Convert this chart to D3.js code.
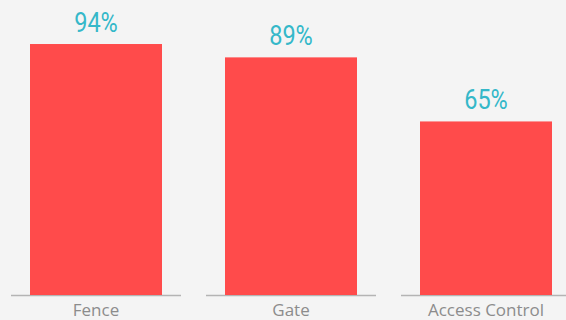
<!DOCTYPE html>
<html><head><meta charset="utf-8">
<script src="https://cdn.jsdelivr.net/npm/d3@7"></script>
<style>html,body{margin:0;padding:0;background:#f4f4f4;}svg{display:block;}</style>
</head><body>
<svg id="c" width="566" height="320"></svg>
<script>
const categories = ["Fence", "Gate", "Access Control"];
const values = [94, 89, 65];
const valueLabels = ["94%", "89%", "65%"];

const svg = d3.select("#c");
const W = 566, H = 320;
svg.append("rect").attr("width", W).attr("height", H).attr("fill", "#f4f4f4");

const x = d3.scaleBand().domain(categories).range([11, 571]).paddingInner(25/195).paddingOuter(0);
const y = d3.scaleLinear().domain([0, 100]).range([295, 28]);
const barW = 132;

svg.selectAll("line.base").data(categories).enter().append("line")
  .attr("class", "base")
  .attr("x1", d => x(d)).attr("x2", d => x(d) + x.bandwidth())
  .attr("y1", y(0) + 0.5).attr("y2", y(0) + 0.5)
  .attr("stroke", "#b4b4b4").attr("stroke-width", 1.5);

svg.selectAll("rect.bar").data(categories).enter().append("rect")
  .attr("class", "bar")
  .attr("x", d => x(d) + (x.bandwidth() - barW) / 2)
  .attr("width", barW)
  .attr("y", (d, i) => y(values[i]))
  .attr("height", (d, i) => y(0) - y(values[i]))
  .attr("fill", "#ff4b4b");

svg.selectAll("text.val").data(categories).enter().append("text")
  .attr("class", "val")
  .attr("transform", (d, i) => `translate(${x(d) + x.bandwidth() / 2},${y(values[i]) - 12}) scale(0.87,1)`)
  .attr("text-anchor", "middle")
  .attr("font-family", "Roboto, sans-serif")
  .attr("font-size", 27)
  .attr("fill", "#35b8c9")
  .text((d, i) => valueLabels[i]);

svg.selectAll("text.cat").data(categories).enter().append("text")
  .attr("class", "cat")
  .attr("x", d => x(d) + x.bandwidth() / 2)
  .attr("y", 316)
  .attr("text-anchor", "middle")
  .attr("font-family", "'Open Sans', sans-serif")
  .attr("font-size", 17)
  .attr("fill", "#8c8c8c")
  .text(d => d);
</script>
</body></html>
